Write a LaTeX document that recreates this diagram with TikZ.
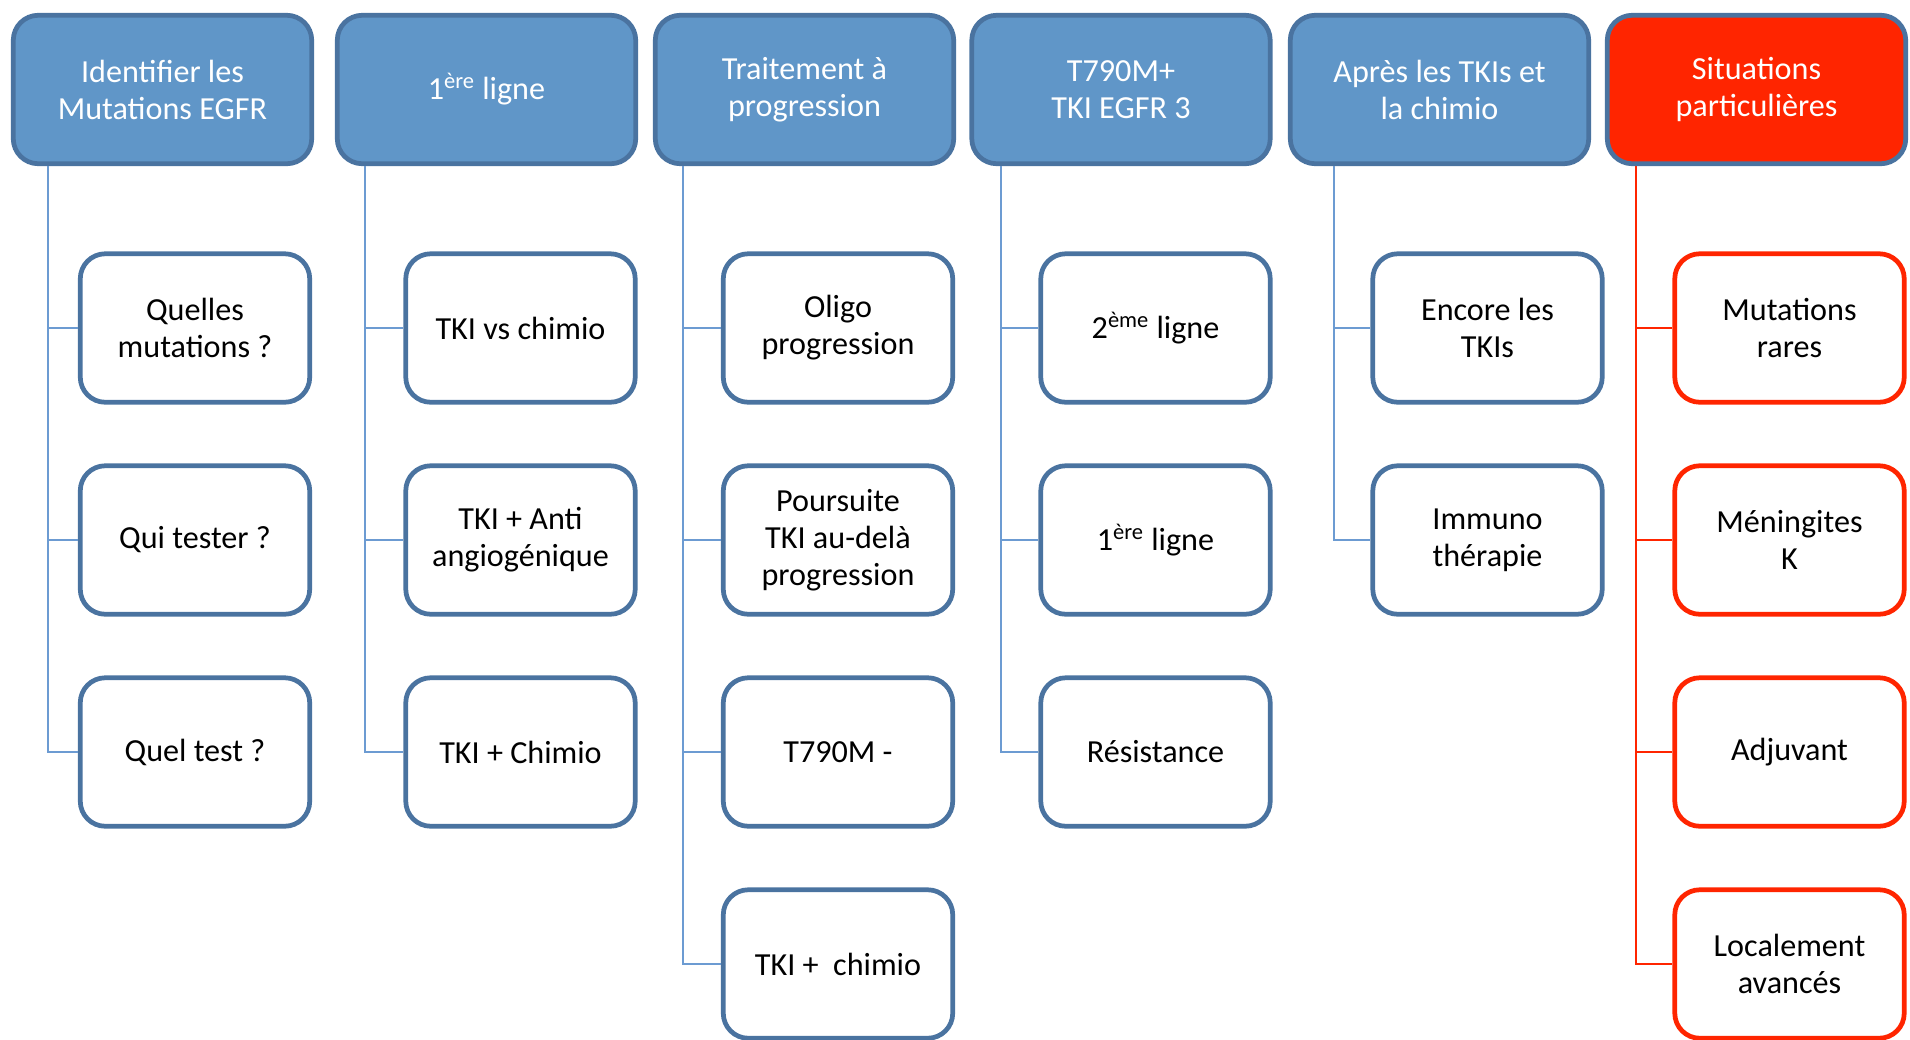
\documentclass[tikz,border=0pt]{standalone}
\usepackage{fontspec}
\setmainfont{Carlito}
\definecolor{boxblue}{HTML}{6096C8}
\definecolor{edgeblue}{HTML}{4A73A0}
\definecolor{linkblue}{HTML}{6C9BD2}
\definecolor{alertred}{HTML}{FF2500}
\tikzset{>=latex}
\tikzset{
  header/.style={draw=edgeblue,line width=2.7pt,rounded corners=0.5cm,text=white,align=center,
    minimum width=5.97cm,minimum height=2.97cm,font=\fontsize{18.3}{21}\selectfont},
  item/.style={draw=#1,fill=white,line width=2.7pt,rounded corners=0.5cm,align=center,
    minimum width=4.59cm,minimum height=2.97cm,font=\fontsize{18.3}{21}\selectfont},
  item/.default=edgeblue,
  link/.style={draw=#1,line width=1.1pt},
  link/.default=linkblue,
}

\begin{document}
\begin{tikzpicture}[x=0.02cm,y=-0.02cm]
  \useasboundingbox (0,0) rectangle (1910,1039); % page in pixels
  \def\hy{89.5} % y of the headers
  \def\ry{212} % distance between rows
  \foreach \n/\x/\f/\t in {1/162.5/boxblue/{Identifier les\\Mutations EGFR},
      2/486.5/boxblue/{1\textsuperscript{ère} ligne},
      3/804.5/boxblue/{Traitement à\\progression},
      4/1121/boxblue/{T790M+\\TKI EGFR 3},
      5/1439.5/boxblue/{Après les TKIs et\\la chimio},
      6/1756.5/alertred/{Situations\\particulières}}{ % loop over headers
    \node[header,fill=\f] (h\n) at (\x,\hy) {\t};
  }
  \foreach \i/\t in {1/{Quelles\\mutations ?},2/{Qui tester ?},3/{Quel test ?}}{ % identifier
    \node[item] (id\i) at (195,116+\ry*\i) {\t};
    \draw[link] ([xshift=-2.29cm]h1.south) |- (id\i.west);
  }
  \foreach \i/\t in {1/{TKI vs chimio},2/{TKI + Anti\\angiogénique},3/{TKI + Chimio}}{ % 1ere ligne
    \node[item] (li\i) at (520.5,116+\ry*\i) {\t};
    \draw[link] ([xshift=-2.43cm]h2.south) |- (li\i.west);
  }
  \foreach \i/\t in {1/{Oligo\\progression},2/{Poursuite\\TKI au-delà\\progression},
      3/{T790M -},4/{TKI +\ \ chimio}}{ % progression
    \node[item] (pr\i) at (838,116+\ry*\i) {\t};
    \draw[link] ([xshift=-2.43cm]h3.south) |- (pr\i.west);
  }
  \foreach \i/\t in {1/{2\textsuperscript{ème} ligne},2/{1\textsuperscript{ère} ligne},3/{Résistance}}{ % T790M+
    \node[item] (tm\i) at (1155.5,116+\ry*\i) {\t};
    \draw[link] ([xshift=-2.4cm]h4.south) |- (tm\i.west);
  }
  \foreach \i/\t in {1/{Encore les\\TKIs},2/{Immuno\\thérapie}}{ % apres
    \node[item] (ap\i) at (1487.5,116+\ry*\i) {\t};
    \draw[link] ([xshift=-2.12cm]h5.south) |- (ap\i.west);
  }
  \foreach \i/\t in {1/{Mutations\\rares},2/{Méningites\\K},3/{Adjuvant},4/{Localement\\avancés}}{ % situations
    \node[item=alertred] (si\i) at (1789.5,116+\ry*\i) {\t};
    \draw[link=alertred] ([xshift=-2.41cm]h6.south) |- (si\i.west);
  }
\end{tikzpicture}
\end{document}
